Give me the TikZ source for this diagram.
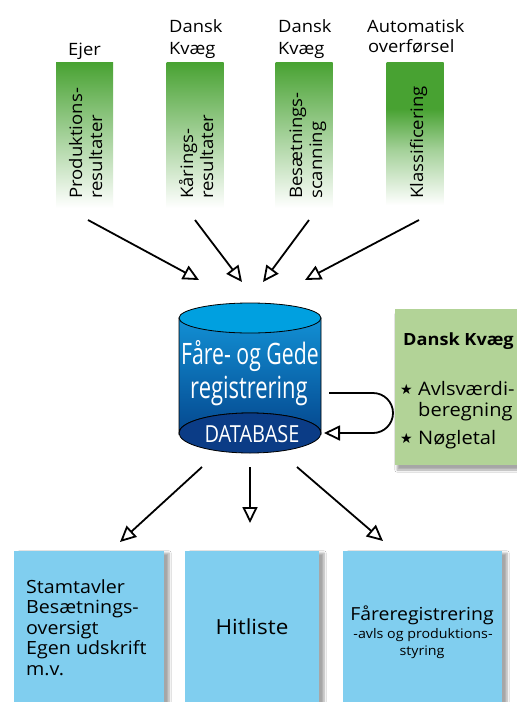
\documentclass[tikz,border=0pt]{standalone}
\usepackage{fontspec}
\setmainfont[FakeStretch=1.08]{Open Sans}
\newfontfamily\condfont[FakeStretch=0.72]{Open Sans}
\newfontfamily\dbfont[FakeStretch=0.85]{Open Sans}
\newfontfamily\starfont{DejaVu Sans}
\usetikzlibrary{arrows.meta,shadows.blur}
\definecolor{bargreen}{HTML}{48A232}
\definecolor{lightgreen}{HTML}{B2D397}
\definecolor{boxblue}{HTML}{80CEEF}
\definecolor{cyltop}{HTML}{00A0E0}
\definecolor{cylupper}{HTML}{1290D4}
\definecolor{cylbot}{HTML}{05488F}
\definecolor{cylbase}{HTML}{0B3C86}
\pgfdeclareverticalshading{barfour}{100bp}{color(0bp)=(white); color(26bp)=(white); color(45bp)=(bargreen!50!white); color(59bp)=(bargreen); color(100bp)=(bargreen)}
\tikzset{
  bar/.style={minimum width=57pt, minimum height=146pt, inner sep=0pt, draw=none},
  bartext/.style={rotate=90, anchor=base west, inner sep=0pt, font=\fontsize{17.2}{20}\selectfont},
  lbl/.style={inner sep=0pt, font=\fontsize{17}{20}\selectfont},
  arr/.style={line width=1.8pt, -{Triangle[open, length=16pt, width=15pt, line width=1.8pt]}},
  gbox/.style={fill=lightgreen, inner sep=0pt, blur shadow={shadow xshift=2pt, shadow yshift=-5pt, shadow blur steps=6, shadow opacity=35}},
  bbox/.style={fill=boxblue, inner sep=0pt, blur shadow={shadow xshift=5pt, shadow yshift=-2pt, shadow blur steps=6, shadow opacity=35}},
  txt/.style={inner sep=0pt, font=\fontsize{18.2}{20}\selectfont},
  gtxt/.style={inner sep=0pt, font=\fontsize{18.6}{20}\selectfont},
  startxt/.style={inner sep=0pt, font=\starfont\fontsize{14}{14}\selectfont},
}
\begin{document}
\begin{tikzpicture}[x=1pt, y=-1pt]
\useasboundingbox (0,0) rectangle (517,702);
\fill[white] (0,0) rectangle (517,702);

% top labels
\node[lbl, anchor=base] (l1) at (84.5,55) {Ejer};
\node[lbl, anchor=base west] (l2a) at (169,32.5) {Dansk};
\node[lbl, anchor=base west] (l2b) at (169,54) {Kvæg};
\node[lbl, anchor=base west] (l3a) at (278,32.5) {Dansk};
\node[lbl, anchor=base west] (l3b) at (278,54) {Kvæg};
\node[lbl, anchor=base west] (l4a) at (367,32.5) {Automatisk};
\node[lbl, anchor=base west] (l4b) at (368,52) {overførsel};

% green bars
\node[bar, top color=bargreen, bottom color=white] (b1) at (84.5,135) {};
\node[bar, top color=bargreen, bottom color=white] (b2) at (195,135) {};
\node[bar, top color=bargreen, bottom color=white] (b3) at (304,135) {};
\node[bar, shading=barfour] (b4) at (415,135) {};

\node[bartext] (t1a) at (82,199) {Produktions-};
\node[bartext] (t1b) at (102,199) {resultater};
\node[bartext] (t2a) at (193,199) {Kårings-};
\node[bartext] (t2b) at (213,199) {resultater};
\node[bartext] (t3a) at (302,199) {Besætnings-};
\node[bartext] (t3b) at (322,199) {scanning};
\node[bartext] (t4a) at (423,199) {Klassificering};

% arrow end points
\coordinate (s1) at (88,220);  \coordinate (e1) at (199,280);
\coordinate (s2) at (195,220); \coordinate (e2) at (242,282);
\coordinate (s3) at (309,220); \coordinate (e3) at (263,282);
\coordinate (s4) at (419,220); \coordinate (e4) at (305,280);
\draw[arr] (s1) -- (e1);
\draw[arr] (s2) -- (e2);
\draw[arr] (s3) -- (e3);
\draw[arr] (s4) -- (e4);

% database cylinder
\shade[top color=cylupper, bottom color=cylbot, draw=black, line width=0.8pt]
  (179,318) -- (179,433) arc[start angle=180, end angle=360, x radius=71, y radius=20] -- (321,318) -- cycle;
\fill[cylbase, draw=black, line width=0.8pt] (250,433) ellipse [x radius=71, y radius=20];
\fill[cyltop, draw=black, line width=0.8pt] (250,318) ellipse [x radius=71, y radius=15];
\node[inner sep=0pt, anchor=base, text=white, font=\condfont\fontsize{29.5}{30}\selectfont] (db1) at (250,364) {Fåre- og Gede};
\node[inner sep=0pt, anchor=base, text=white, font=\condfont\fontsize{30.5}{30}\selectfont] (db2) at (249,398) {registrering};
\node[inner sep=0pt, anchor=base, text=white, font=\dbfont\fontsize{23.5}{24}\selectfont] (db3) at (252,442) {DATABASE};

% loop arrow
\coordinate (ls) at (329,393);
\coordinate (le) at (324,433);
\draw[arr, rounded corners=20pt] (ls) -- (393,393) -- (393,433) -- (le);

% Dansk Kvaeg box
\node[gbox, minimum width=125pt, minimum height=156pt] (dk) at (457.5,387) {};
\node[inner sep=0pt, anchor=base west, font=\bfseries\fontsize{16.8}{20}\selectfont] (dkt) at (403,345) {Dansk Kvæg};
\node[startxt] (st1) at (406.5,389.5) {★};
\node[gtxt, anchor=base west] (i1a) at (418,395) {Avlsværdi-};
\node[gtxt, anchor=base west] (i1b) at (418,416) {beregning};
\node[startxt] (st2) at (406.5,438.5) {★};
\node[gtxt, anchor=base west] (i2) at (418,444) {Nøgletal};

% output boxes
\node[bbox, minimum width=150pt, minimum height=151pt] (o1) at (89,626.5) {};
\node[bbox, minimum width=134pt, minimum height=151pt] (o2) at (252,626.5) {};
\node[bbox, minimum width=159pt, minimum height=151pt] (o3) at (422.5,626.5) {};

\node[txt, anchor=base west] (o1a) at (26,593) {Stamtavler};
\node[txt, anchor=base west] (o1b) at (26,613.5) {Besætnings-};
\node[txt, anchor=base west] (o1c) at (26,634) {oversigt};
\node[txt, anchor=base west] (o1d) at (26,654.5) {Egen udskrift};
\node[txt, anchor=base west] (o1e) at (26,675) {m.v.};
\node[inner sep=0pt, anchor=base, font=\fontsize{20.8}{22}\selectfont] (o2a) at (252,634) {Hitliste};
\node[inner sep=0pt, anchor=base, font=\fontsize{18}{20}\selectfont] (o3a) at (422,620) {Fåreregistrering};
\node[inner sep=0pt, anchor=base, font=\fontsize{13.2}{15}\selectfont] (o3b) at (423,638) {-avls og produktions-};
\node[inner sep=0pt, anchor=base, font=\fontsize{13.2}{15}\selectfont] (o3c) at (422,655) {styring};

% bottom arrows
\coordinate (d1) at (202,467); \coordinate (f1) at (120,542);
\coordinate (d2) at (250,467); \coordinate (f2) at (250,523);
\coordinate (d3) at (297,467); \coordinate (f3) at (383,541);
\draw[arr] (d1) -- (f1);
\draw[arr] (d2) -- (f2);
\draw[arr] (d3) -- (f3);
\end{tikzpicture}
\end{document}
